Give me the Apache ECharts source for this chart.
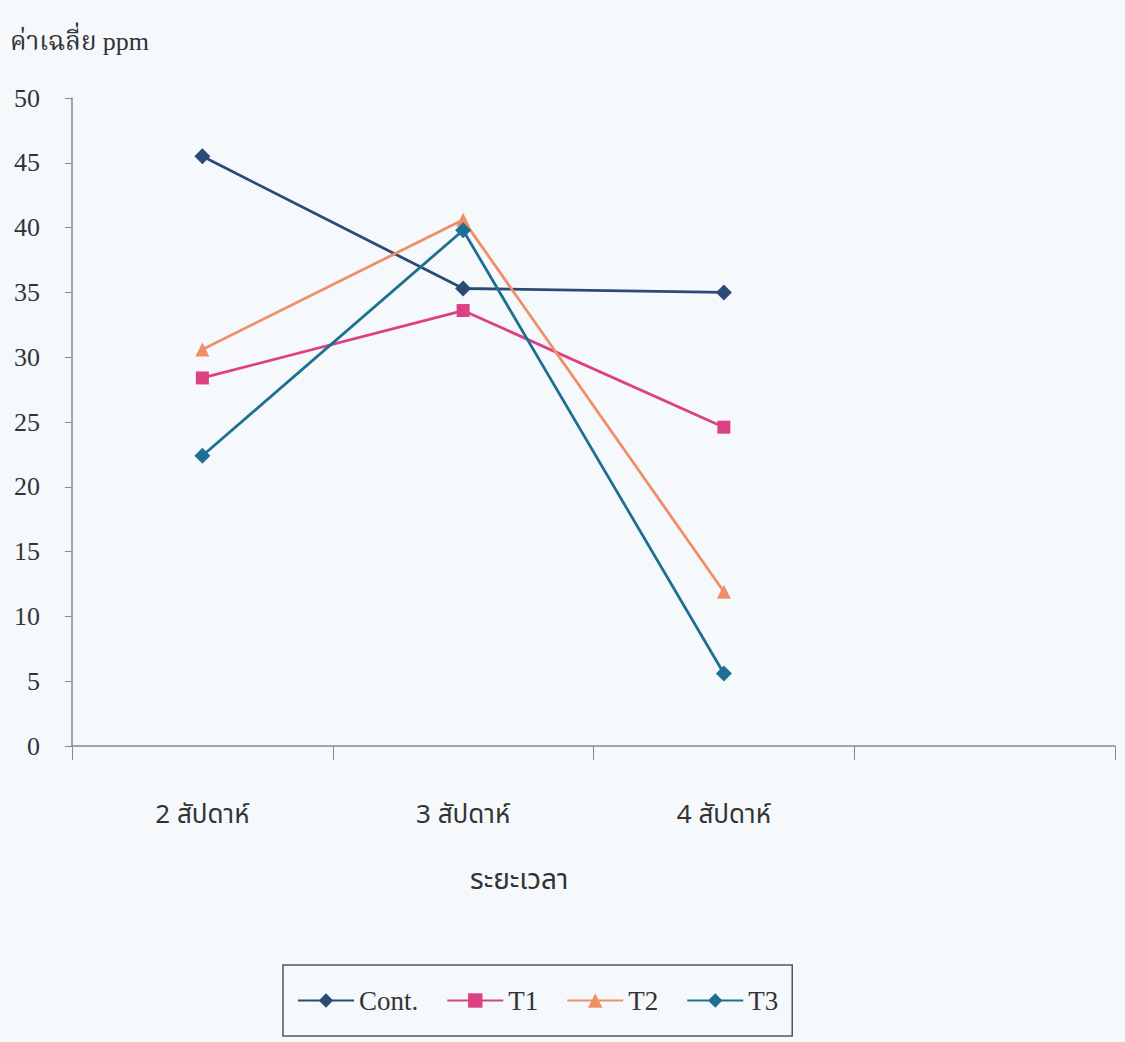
<!DOCTYPE html>
<html>
<head>
<meta charset="utf-8">
<script src="https://cdn.jsdelivr.net/npm/echarts@6/dist/echarts.min.js"></script>
<style>
  html, body { margin: 0; padding: 0; background: #f6f9fb; }
  #chart { width: 1125px; height: 1042px; }
</style>
</head>
<body>
<div id="chart"></div>
<script>
const categories = ['2 สัปดาห์', '3 สัปดาห์', '4 สัปดาห์', '']
const yTicks = [0, 5, 10, 15, 20, 25, 30, 35, 40, 45, 50]
const contValues = [45.5, 35.3, 35.0]
const t1Values = [28.4, 33.6, 24.6]
const t2Values = [30.6, 40.6, 11.9]
const t3Values = [22.4, 39.8, 5.6]

const serif = '"Liberation Serif", "Noto Serif Thai", serif'
const thai = '"Noto Sans Thai", "Noto Sans", "Liberation Sans", sans-serif'

const chart = echarts.init(document.getElementById('chart'), null, { renderer: 'svg' })

const mkSeries = (name, data, color, symbol, size) => ({
  name,
  type: 'line',
  data,
  symbol,
  symbolSize: size,
  lineStyle: { color, width: 2.8 },
  itemStyle: { color },
  animation: false
})

const option = {
  backgroundColor: '#f6f9fb',
  grid: { left: 72, right: 10, top: 98, bottom: 296 },
  graphic: [
    {
      type: 'text', left: 10, top: 28,
      style: { text: 'ค่าเฉลี่ย ppm', font: '26px ' + serif, fill: '#333' }
    },
    {
      type: 'text', left: 470, top: 866,
      style: { text: 'ระยะเวลา', font: '28px ' + thai, fill: '#333' }
    }
  ],
  legend: {
    left: 283, top: 965,
    padding: [22, 14, 22, 14],
    borderColor: '#555', borderWidth: 1.5,
    itemWidth: 56, itemHeight: 18, itemGap: 28,
    textStyle: { fontFamily: serif, fontSize: 27, color: '#333' },
    data: ['Cont.', 'T1', 'T2', 'T3']
  },
  xAxis: {
    type: 'category',
    data: categories,
    boundaryGap: true,
    axisLine: { lineStyle: { color: '#888', width: 1.5 } },
    axisTick: { show: true, length: 14, lineStyle: { color: '#888' }, alignWithLabel: false },
    axisLabel: { margin: 56, fontFamily: thai, fontSize: 26, color: '#333', interval: 0 },
    splitLine: { show: false }
  },
  yAxis: {
    type: 'value',
    min: yTicks[0], max: yTicks[yTicks.length - 1], interval: 5,
    axisLine: { show: true, lineStyle: { color: '#888', width: 1.5 } },
    axisTick: { show: true, length: 7, lineStyle: { color: '#888' } },
    axisLabel: { margin: 32, fontFamily: serif, fontSize: 26, color: '#333' },
    splitLine: { show: false }
  },
  series: [
    mkSeries('Cont.', contValues, '#2b4a76', 'diamond', 16),
    mkSeries('T1', t1Values, '#dc4283', 'rect', 13),
    mkSeries('T2', t2Values, '#f08e68', 'triangle', 14),
    mkSeries('T3', t3Values, '#1e7093', 'diamond', 16)
  ]
}

chart.setOption(option)
</script>
</body>
</html>
